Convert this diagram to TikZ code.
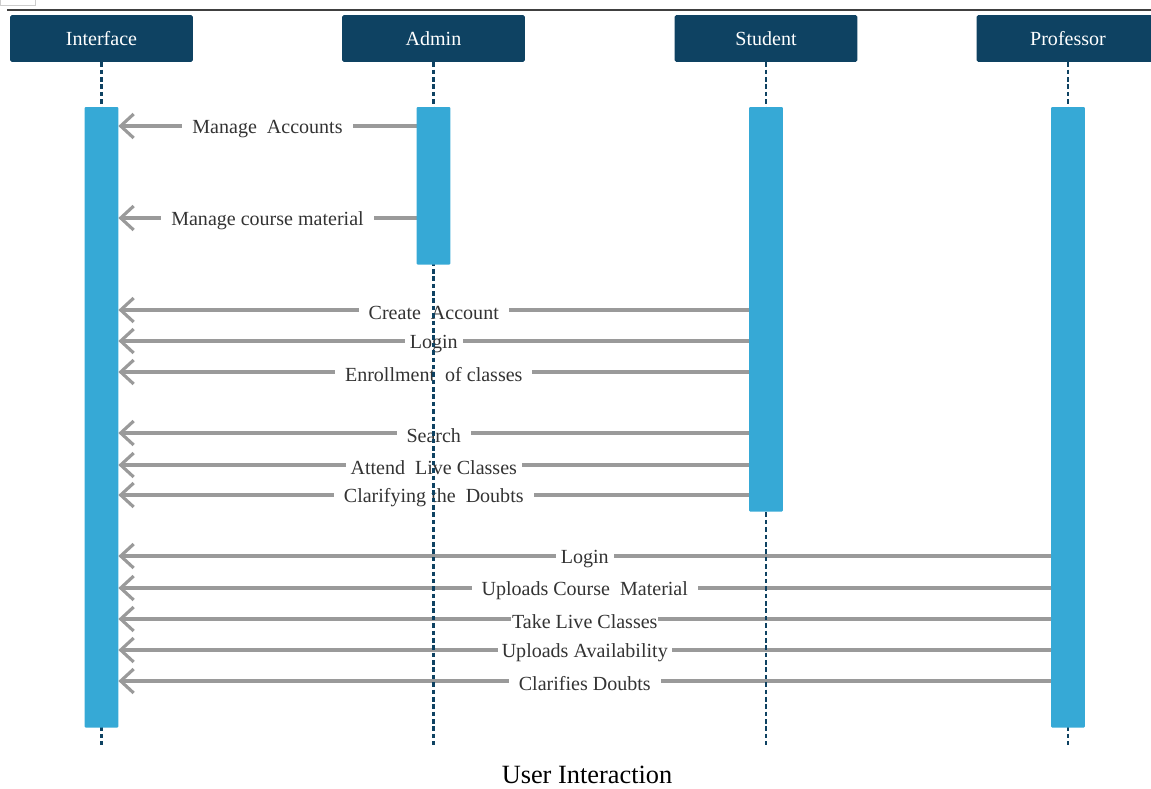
\documentclass[tikz,border=0pt]{standalone}
\usepackage{fontspec}
\setmainfont{Liberation Serif}
\usetikzlibrary{arrows.meta}
\definecolor{navy}{HTML}{0E4262}
\definecolor{barblue}{HTML}{36A9D6}
\definecolor{msggray}{HTML}{9A9A9A}
\definecolor{lbltext}{HTML}{333333}
\begin{document}
\begin{tikzpicture}[x=0.02cm,y=-0.02cm,
 head/.style={fill=navy,text=white,minimum width=3.66cm,minimum height=0.94cm,inner sep=0pt,rounded corners=1pt,font=\fontsize{11.4}{13}\selectfont},
 life/.style={draw=navy,line width=1.5pt,dash pattern=on 2.6pt off 1.6pt},
 actbar/.style={fill=barblue,minimum width=0.66cm,inner sep=0pt,anchor=north,rounded corners=0.6pt},
 msg/.style={draw=msggray,line width=1.8pt,-{Straight Barb[length=0.26cm,width=0.48cm]}},
 lbl/.style={fill=white,inner xsep=0.2cm,inner ysep=1pt,yshift=-1.5pt,font=\fontsize{11.4}{13}\selectfont,text=lbltext},
 topline/.style={draw=black!75,line width=1.2pt}]
\useasboundingbox (0,0) rectangle (1151,788);
% top decoration
\draw[draw=black!20,line width=0.5pt] (0,-2) rectangle (35,5);
\coordinate (tlA) at (7,10);
\coordinate (tlB) at (1151,10);
\draw[topline] (tlA) -- (tlB);
% headers
\node[head] (hI) at (101.5,38.5) {Interface};
\node[head] (hA) at (433.5,38.5) {Admin};
\node[head] (hS) at (766,38.5) {Student};
\node[head] (hP) at (1068,38.5) {Professor};
% lifeline ends
\coordinate (eI) at (101.5,745);
\coordinate (eA) at (433.5,745);
\coordinate (eS) at (766,745);
\coordinate (eP) at (1068,745);
% activation bars (placed invisible first for names)
\path (101.5,107) node[actbar,minimum height=12.4cm,fill=none] (bI) {};
\path (433.5,107) node[actbar,minimum height=3.14cm,fill=none] (bA) {};
\path (766,107) node[actbar,minimum height=8.08cm,fill=none] (bS) {};
\path (1068,107) node[actbar,minimum height=12.4cm,fill=none] (bP) {};
% messages
\draw[msg] (bA.west|-0,126) -- node[lbl] {Manage\ \ Accounts} (bI.east|-0,126);
\draw[msg] (bA.west|-0,218) -- node[lbl] {Manage course material} (bI.east|-0,218);
\draw[msg] (bS.west|-0,310) -- node[lbl] {Create\ \ Account} (bI.east|-0,310);
\draw[msg] (bS.west|-0,341) -- node[lbl,inner xsep=0.1cm] {Login} (bI.east|-0,341);
\draw[msg] (bS.west|-0,372) -- node[lbl] {Enrollment\ \ of classes} (bI.east|-0,372);
\draw[msg] (bS.west|-0,433) -- node[lbl] {Search} (bI.east|-0,433);
\draw[msg] (bS.west|-0,465) -- node[lbl,inner xsep=0.1cm] {Attend\ \ Live Classes} (bI.east|-0,465);
\draw[msg] (bS.west|-0,495) -- node[lbl] {Clarifying the\ \ Doubts} (bI.east|-0,495);
\draw[msg] (bP.west|-0,556) -- node[lbl,inner xsep=0.1cm] {Login} (bI.east|-0,556);
\draw[msg] (bP.west|-0,588) -- node[lbl] {Uploads Course\ \ Material} (bI.east|-0,588);
\draw[msg] (bP.west|-0,619) -- node[lbl,inner xsep=0.02cm] {Take Live Classes} (bI.east|-0,619);
\draw[msg] (bP.west|-0,650) -- node[lbl,inner xsep=0.08cm] {Uploads Availability} (bI.east|-0,650);
\draw[msg] (bP.west|-0,681) -- node[lbl] {Clarifies Doubts} (bI.east|-0,681);
% lifelines
\draw[life] (hI.south) -- (eI);
\draw[life] (hA.south) -- (eA);
\draw[life] (hS.south) -- (eS);
\draw[life] (hP.south) -- (eP);
% activation bars drawn
\fill[barblue,rounded corners=0.6pt] (bI.south west) rectangle (bI.north east);
\fill[barblue,rounded corners=0.6pt] (bA.south west) rectangle (bA.north east);
\fill[barblue,rounded corners=0.6pt] (bS.south west) rectangle (bS.north east);
\fill[barblue,rounded corners=0.6pt] (bP.south west) rectangle (bP.north east);
% caption
\node[font=\fontsize{15}{18}\selectfont] (cap) at (587,775) {User Interaction};
\end{tikzpicture}
\end{document}
